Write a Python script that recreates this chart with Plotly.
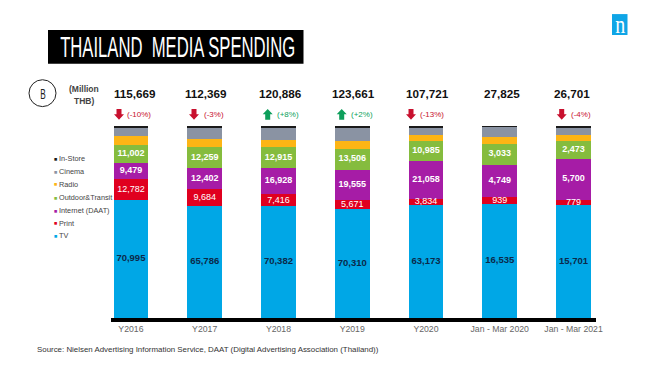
import plotly.graph_objects as go

categories = ["Y2016", "Y2017", "Y2018", "Y2019", "Y2020", "Jan - Mar 2020", "Jan - Mar 2021"]
totals = ["115,669", "112,369", "120,886", "123,661", "107,721", "27,825", "26,701"]
changes = ["(-10%)", "(-3%)", "(+8%)", "(+2%)", "(-13%)", "", "(-4%)"]

tv = [70995, 65786, 70382, 70310, 63173, 16535, 15701]
print_ = [12782, 9684, 7416, 5671, 3834, 939, 779]
internet = [9479, 12402, 16928, 19555, 21058, 4749, 5700]
outdoor = [11002, 12259, 12915, 13506, 10985, 3033, 2473]
radio = [5400, 4840, 4170, 4700, 3500, 960, 735]
cinema = [4900, 6800, 7700, 8760, 4300, 1480, 1060]
instore = [1111, 598, 1375, 1159, 871, 129, 253]

series = [
    ("TV", tv, "#00A7E6", True, "#0B2A4A"),
    ("Print", print_, "#E0001F", True, "#FFFFFF"),
    ("Internet (DAAT)", internet, "#A61CA6", True, "#FFFFFF"),
    ("Outdoor&Transit", outdoor, "#85BC3E", True, "#FFFFFF"),
    ("Radio", radio, "#FDB515", False, ""),
    ("Cinema", cinema, "#8A93A3", False, ""),
    ("In-Store", instore, "#1A1A1A", False, ""),
]

W, H = 659, 369
L, R, T, B = 111, 596, 125.5, 318.5


def px(x):
    return (x - L) / (R - L)


def py(y):
    return (B - y) / (B - T)


sums = [sum(s[1][i] for s in series) for i in range(len(categories))]
fig = go.Figure()
base = [0.0] * len(categories)
label_traces = []
for name, vals, color, labelled, tcolor in series:
    share = [v / t * 100 for v, t in zip(vals, sums)]
    fig.add_bar(x=list(range(len(categories))), y=share, name=name,
                marker=dict(color=color, line=dict(width=0)), showlegend=False)
    if labelled:
        mids = [b + s / 2 for b, s in zip(base, share)]
        label_traces.append((mids, [f"{v:,}" for v in vals], tcolor, name))
    base = [b + s for b, s in zip(base, share)]

for mids, texts, tcolor, name in label_traces:
    fig.add_scatter(x=list(range(len(categories))), y=mids, mode="text", text=texts,
                    textposition="middle center", showlegend=False, name=name + " labels",
                    textfont=dict(family="Liberation Sans", size=9.5 if name == "TV" else 9, color=tcolor,
                                  weight="normal" if name == "Print" else "bold"))

ann = []


def text(x, y, s, size=10, color="#000", family="Liberation Sans", anchor="center", bold=False):
    if bold:
        s = f"<b>{s}</b>"
    ann.append(dict(x=px(x), y=py(y), xref="paper", yref="paper", text=s, showarrow=False,
                    xanchor=anchor, yanchor="middle", align=anchor, borderpad=0,
                    font=dict(size=size, color=color, family=family)))


shapes = [
    dict(type="rect", xref="paper", yref="paper", x0=px(48), x1=px(303.5), y0=py(29), y1=py(63),
         fillcolor="#000", line_width=0),
    dict(type="rect", xref="paper", yref="paper", x0=px(612), x1=px(627.5), y0=py(13), y1=py(34),
         fillcolor="#0FA5E6", line_width=0),
    dict(type="circle", xref="paper", yref="paper", x0=px(29), x1=px(56), y0=py(79), y1=py(106),
         fillcolor="rgba(0,0,0,0)", line=dict(color="#222", width=1)),
]


def arrow(cx, cy, up, color):
    # block arrow decoration, in page pixels
    s = -1 if up else 1
    pts = [(-2.5, -5.5), (2.5, -5.5), (2.5, 0), (5, 0), (0, 5.5), (-5, 0), (-2.5, 0)]
    path = "M " + " L ".join(f"{px(cx + a)} {py(cy + s * b)}" for a, b in pts) + " Z"
    shapes.append(dict(type="path", xref="paper", yref="paper", path=path, fillcolor=color, line_width=0))


text(177, 46.5, "THAILAND  MEDIA SPENDING", size=29, color="#FFF")
text(620, 23, "n", size=25, color="#FFF", family="Liberation Serif")
text(42.5, 92.5, "B", size=15, color="#222")
text(84, 88, "(Million", size=8.5, color="#444", bold=True)
text(84, 100, "THB)", size=8.5, color="#444", bold=True)

total_x = [135, 205.5, 280.5, 353.5, 427, 501.5, 572]
arrow_x = [119, 194, 267.7, 341.7, 411, None, 561.7]
pct_x = [126, 202.5, 275.5, 349.5, 418.5, None, 570]
for i, c in enumerate(totals):
    text(total_x[i], 93, c, size=11.7, bold=True, color="#111")
    if changes[i]:
        up = "+" in changes[i]
        col = "#0E9F5B" if up else "#C8102E"
        arrow(arrow_x[i], 113.8, up, col)
        text(pct_x[i], 113.5, changes[i], size=8, color=col, anchor="left")

legend_y = [158.5, 171.5, 184, 197.5, 210.5, 223.5, 236]
for (name, vals, color, _, _), y in zip(reversed(series), legend_y):
    text(53, y, "■", size=5.5, color=color, anchor="left")
    text(58, y, name, size=7.3, color="#444", anchor="left")

text(35.5, 350.5, "Source: Nielsen Advertising Information Service, DAAT (Digital Advertising Association (Thailand))",
     size=7.9, color="#333", anchor="left")

fig.update_layout(
    width=W, height=H, autosize=False, barmode="stack", bargap=0.53,
    margin=dict(l=L, r=W - R, t=T, b=H - B, pad=0),
    paper_bgcolor="#FFF", plot_bgcolor="#FFF", shapes=shapes, annotations=ann, showlegend=False,
    xaxis=dict(range=[-0.27, 6.305], tickmode="array", tickvals=list(range(len(categories))),
               ticktext=categories, showgrid=False, zeroline=False, showline=True,
               linecolor="#000", linewidth=4, ticks="",
               tickfont=dict(family="Liberation Sans", size=8.7, color="#666")),
    yaxis=dict(range=[0, 100], visible=False, showgrid=False),
)
squeeze = """
document.body.style.margin='0';
var fit={'THAILAND  MEDIA SPENDING':235,'B':5.5,'n':10};
document.querySelectorAll('.annotation-text').forEach(function(t){
  var key=t.textContent.replace(/\\u00a0/g,' ');
  if(fit[key]){t.setAttribute('textLength',fit[key]);t.setAttribute('lengthAdjust','spacingAndGlyphs');}
});
"""
fig.write_html("out.html", config=dict(displayModeBar=False), post_script=squeeze)
